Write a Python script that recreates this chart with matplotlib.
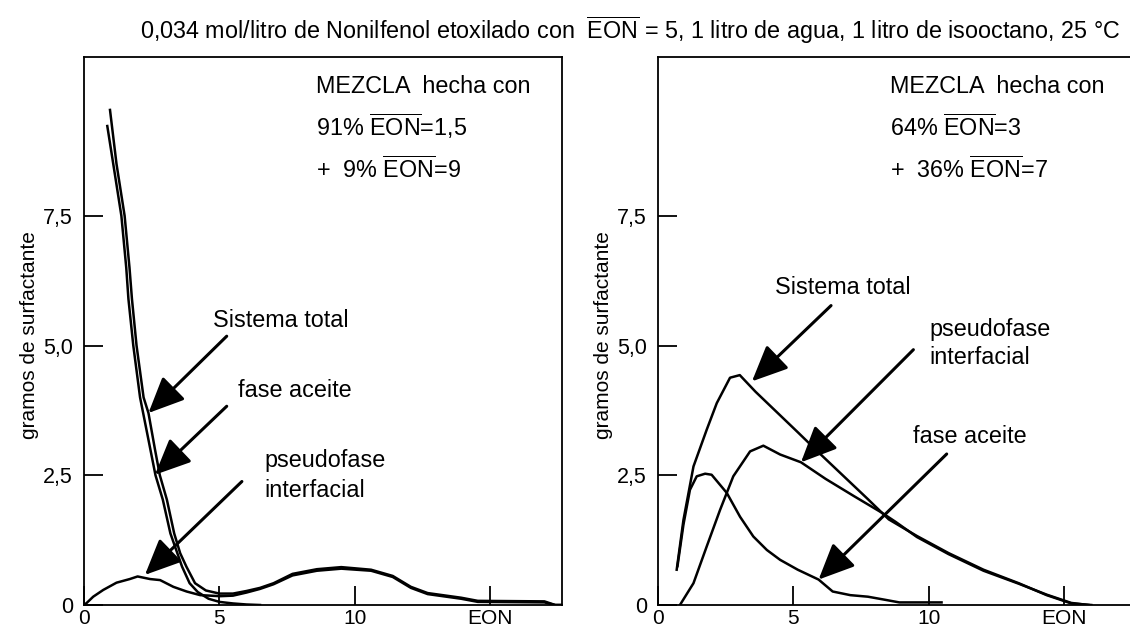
import matplotlib
matplotlib.use("Agg")
import matplotlib.pyplot as plt

plt.rcParams["font.family"] = ["Liberation Sans", "DejaVu Sans"]
plt.rcParams["mathtext.fontset"] = "custom"
plt.rcParams["mathtext.rm"] = "Liberation Sans"

# panel izquierdo: 91% EON=1,5 + 9% EON=9
tot_l_x = [0.96, 1.2, 1.5, 1.68, 1.77, 1.94, 2.2, 2.38, 2.62, 2.8, 3.06, 3.33, 3.55, 3.78, 4.1, 4.5,
           5.0, 5.5, 6.0, 6.5, 7.0, 7.7, 8.6, 9.5, 10.6, 11.4, 12.07, 12.69, 13.93, 14.54, 17.0, 17.4, 17.65]
tot_l_y = [9.54, 8.5, 7.5, 6.5, 5.9, 5.0, 4.0, 3.7, 3.0, 2.5, 2.03, 1.38, 1.0, 0.74, 0.42, 0.28,
           0.22, 0.22, 0.27, 0.33, 0.42, 0.6, 0.69, 0.73, 0.68, 0.56, 0.35, 0.23, 0.14, 0.08, 0.07, 0.0, 0.0]
ace_l_x = [0.86, 1.08, 1.38, 1.56, 1.64, 1.82, 2.07, 2.45, 2.64, 2.91, 3.19, 3.62, 3.9, 4.2, 4.6,
           5.0, 5.5, 6.0, 6.5]
ace_l_y = [9.23, 8.5, 7.5, 6.5, 5.9, 5.0, 4.0, 3.0, 2.5, 2.03, 1.38, 0.74, 0.42, 0.25, 0.12,
           0.06, 0.03, 0.01, 0.0]
int_l_x = [0.0, 0.1, 0.34, 0.71, 1.2, 1.69, 1.98, 2.44, 2.81, 3.3, 3.79, 4.29, 5.03, 5.5, 6.0, 6.5,
           7.0, 7.7, 8.6, 9.5, 10.6, 11.4, 12.07, 12.69, 13.93, 14.54, 17.0, 17.4, 17.65]
int_l_y = [0.0, 0.04, 0.16, 0.29, 0.43, 0.5, 0.55, 0.5, 0.48, 0.35, 0.26, 0.19, 0.17, 0.18, 0.24, 0.31,
           0.4, 0.57, 0.66, 0.7, 0.66, 0.54, 0.33, 0.21, 0.12, 0.06, 0.05, 0.0, 0.0]

# panel derecho: 64% EON=3 + 36% EON=7
tot_r_x = [0.69, 0.94, 1.31, 1.8, 2.17, 2.66, 3.02, 3.6, 4.38, 5.16, 5.93, 6.84, 7.75, 8.52, 9.56,
           10.73, 12.02, 13.32, 14.35, 15.26, 16.0]
tot_r_y = [0.68, 1.64, 2.67, 3.38, 3.89, 4.38, 4.43, 4.11, 3.72, 3.33, 2.94, 2.49, 2.04, 1.65, 1.33,
           1.0, 0.68, 0.42, 0.19, 0.03, 0.0]
ace_r_x = [0.72, 0.94, 1.18, 1.43, 1.74, 1.98, 2.54, 3.03, 3.52, 4.02, 4.51, 5.16, 5.93, 6.45, 7.1,
           7.75, 8.39, 8.91, 10.47]
ace_r_y = [0.75, 1.55, 2.22, 2.48, 2.53, 2.51, 2.16, 1.7, 1.32, 1.06, 0.87, 0.68, 0.49, 0.26, 0.19,
           0.16, 0.1, 0.05, 0.05]
int_r_x = [0.81, 1.31, 1.8, 2.29, 2.78, 3.4, 3.89, 4.51, 5.28, 6.19, 7.23, 8.26, 8.78, 9.56, 10.73,
           12.02, 13.32, 14.35, 15.26, 15.9]
int_r_y = [0.0, 0.42, 1.13, 1.83, 2.48, 2.96, 3.07, 2.9, 2.75, 2.43, 2.1, 1.78, 1.6, 1.31, 0.98,
           0.66, 0.41, 0.2, 0.04, 0.0]

x_ticks = [0, 5, 10, 15]
x_labels = ["0", "5", "10", "EON"]
y_ticks = [0, 2.5, 5.0, 7.5]
y_labels = ["0", "2,5", "5,0", "7,5"]

EON = r"$\overline{\mathrm{EON}}$"
titulo = "0,034 mol/litro de Nonilfenol etoxilado con  " + EON + " = 5, 1 litro de agua, 1 litro de isooctano, 25 °C"
mezcla_l = ["MEZCLA  hecha con", "91% " + EON + "=1,5", "+  9% " + EON + "=9"]
mezcla_r = ["MEZCLA  hecha con", "64% " + EON + "=3", "+  36% " + EON + "=7"]

W, H = 1130, 632
fig = plt.figure(figsize=(W / 100, H / 100), dpi=100)
ax1 = fig.add_axes([84 / W, 1 - 605 / H, 478 / W, 548 / H])
ax2 = fig.add_axes([658 / W, 1 - 605 / H, 478 / W, 548 / H])

fs = 16.8  # textos dentro de los paneles
flecha = dict(arrowstyle="-|>,head_length=1.0,head_width=0.45", mutation_scale=22,
              lw=2.2, color="black", shrinkA=0, shrinkB=0)


def flechar(ax, tip, tail):
    ax.annotate("", xy=tip, xytext=tail, arrowprops=flecha)


def preparar(ax, mezcla):
    ax.set_xlim(0, 17.65)
    ax.set_ylim(0, 10.56)
    ax.set_xticks(x_ticks)
    ax.set_xticklabels(x_labels)
    ax.set_yticks(y_ticks)
    ax.set_yticklabels(y_labels)
    ax.tick_params(direction="in", length=14, width=1.3, labelsize=15.5)
    ax.tick_params(axis="x", pad=3, labelsize=15)
    ax.tick_params(axis="y", pad=8)
    for s in ax.spines.values():
        s.set_linewidth(1.3)
    ax.set_ylabel("gramos de surfactante", fontsize=15)
    ax.yaxis.set_label_coords(-0.095, 0.493)
    for txt, yy in zip(mezcla, [9.86, 9.04, 8.23]):
        ax.text(8.58, yy, txt, fontsize=fs, va="baseline")


lw = 1.8
ax1.plot(tot_l_x, tot_l_y, color="black", lw=lw)
ax1.plot(ace_l_x, ace_l_y, color="black", lw=lw)
ax1.plot(int_l_x, int_l_y, color="black", lw=lw)
preparar(ax1, mezcla_l)
ax1.text(4.75, 5.36, "Sistema total", fontsize=fs, va="baseline")
ax1.text(5.70, 4.0, "fase aceite", fontsize=fs, va="baseline")
ax1.text(6.65, 2.66, "pseudofase", fontsize=fs, va="baseline")
ax1.text(6.65, 2.09, "interfacial", fontsize=fs, va="baseline")
flechar(ax1, (2.38, 3.70), (5.27, 5.18))
flechar(ax1, (2.62, 2.51), (5.27, 3.83))
flechar(ax1, (2.25, 0.58), (5.83, 2.38))

ax2.plot(tot_r_x, tot_r_y, color="black", lw=lw)
ax2.plot(ace_r_x, ace_r_y, color="black", lw=lw)
ax2.plot(int_r_x, int_r_y, color="black", lw=lw)
preparar(ax2, mezcla_r)
ax2.text(4.31, 6.0, "Sistema total", fontsize=fs, va="baseline")
ax2.text(10.01, 5.18, "pseudofase", fontsize=fs, va="baseline")
ax2.text(10.01, 4.64, "interfacial", fontsize=fs, va="baseline")
ax2.text(9.40, 3.13, "fase aceite", fontsize=fs, va="baseline")
flechar(ax2, (3.47, 4.31), (6.39, 5.77))
flechar(ax2, (5.28, 2.75), (9.43, 4.92))
flechar(ax2, (5.93, 0.49), (10.66, 2.91))

fig.text(630 / W, 1 - 30 / H, titulo, ha="center", va="center", fontsize=16.8)

fig.savefig("out.png", dpi=100)
